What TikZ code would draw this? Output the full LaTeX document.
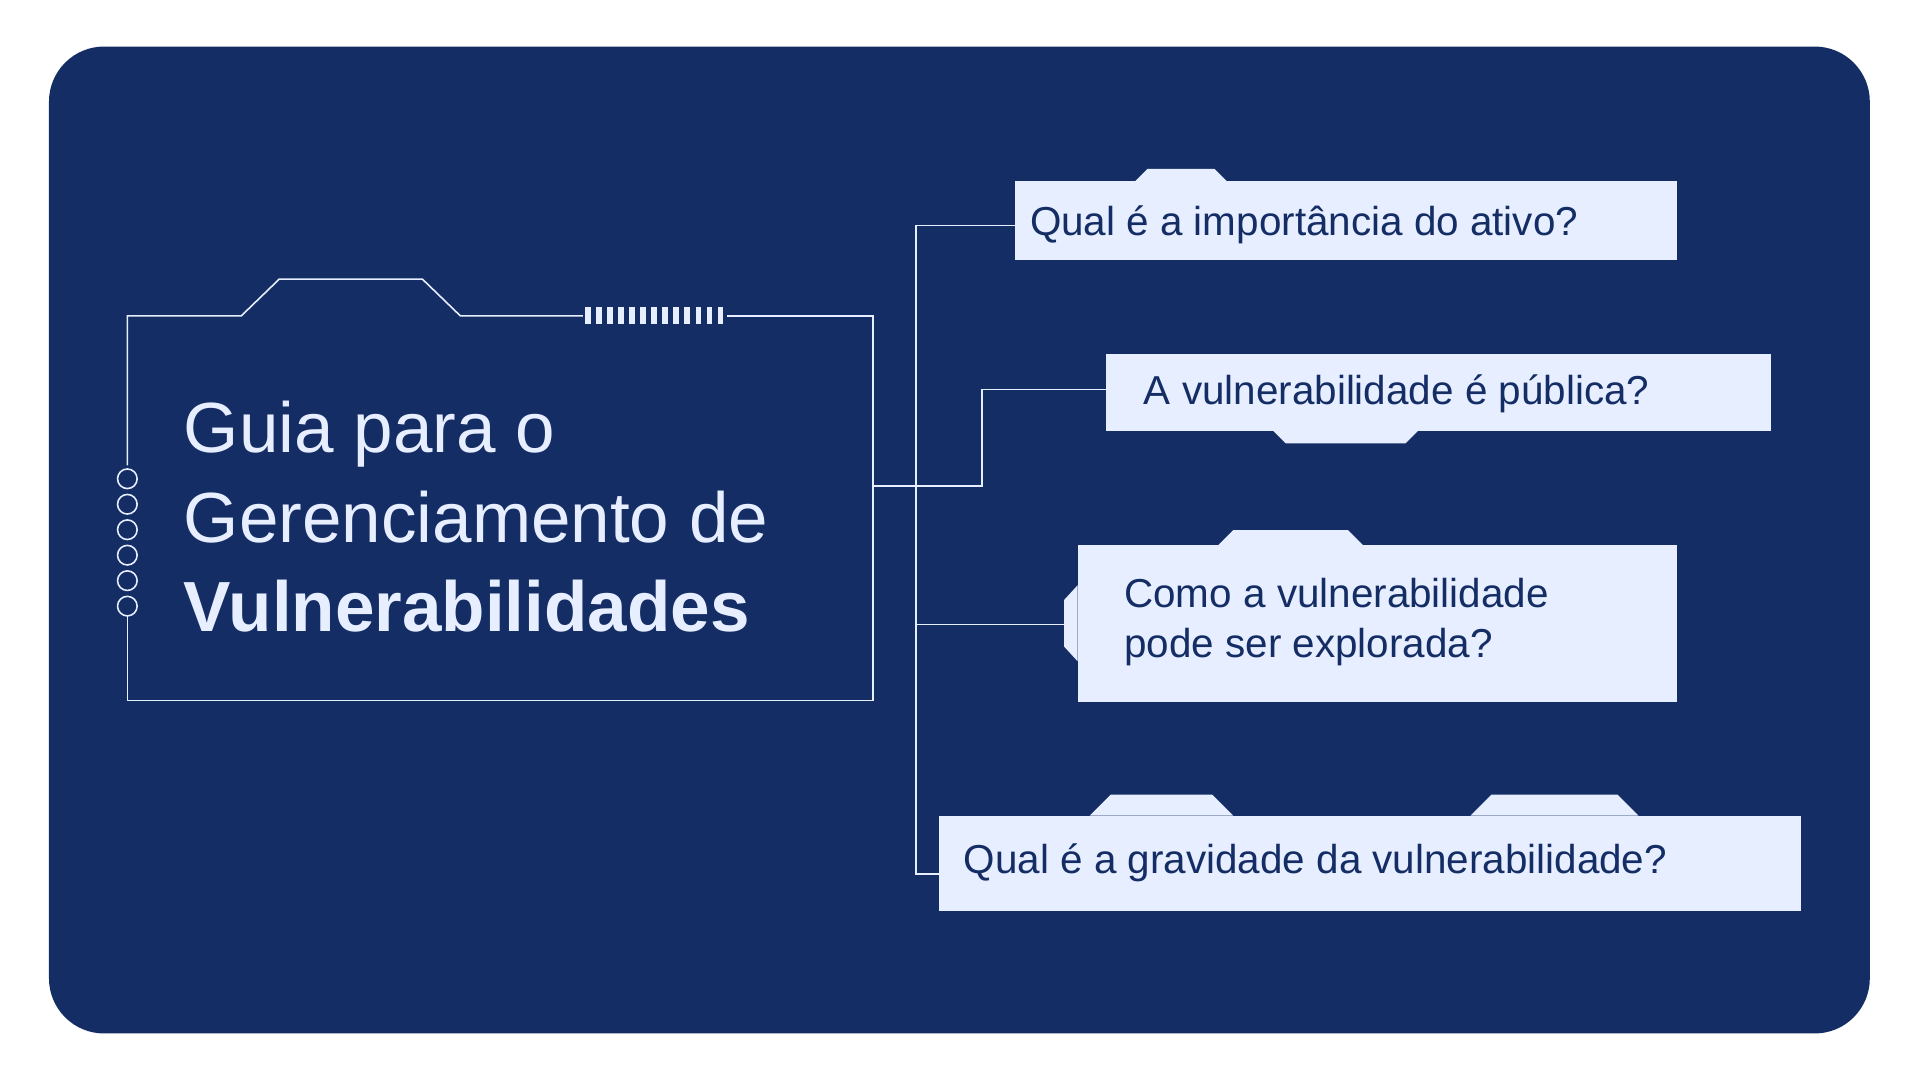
\documentclass[tikz,border=0pt]{standalone}
\usepackage{fontspec}
\setmainfont{Liberation Sans}
\newlength{\du}
\setlength{\du}{1pt}
\definecolor{panelcolor}{HTML}{142D64}
\definecolor{cardcolor}{HTML}{E6EEFF}
\definecolor{inkcolor}{HTML}{142D64}
\tikzset{
  wire/.style={draw=cardcolor,line width=1.3\du},
  card/.style={fill=cardcolor,draw=none,inner sep=0pt,anchor=north west},
  cardtext/.style={text=inkcolor,font=\fontsize{33}{41}\selectfont,anchor=west,align=left,inner sep=0pt},
}
\begin{document}
\begin{tikzpicture}[x=1\du,y=-1\du]
\useasboundingbox (0,0) rectangle (1568,882);
\fill[white] (0,0) rectangle (1568,882);
\fill[panelcolor,rounded corners=45\du] (40,38) rectangle (1527,844);
% title frame
\draw[wire] (104,380)--(104,258)--(197,258)--(228,228)--(345,228)--(376,258)--(476,258);
\foreach \i in {0,...,12}
  \fill[cardcolor] (478+\i*9,251) rectangle ++(4.5,14);
\draw[wire] (594,258)--(713,258)--(713,572)--(104,572)--(104,503);
\foreach \i in {0,...,5}
  \draw[wire] (104,391+\i*20.8) circle (8\du);
\node[anchor=west,text=cardcolor,font=\fontsize{58}{73}\selectfont,align=left,inner sep=0pt] (title) at (150,422)
  {Guia para o\\Gerenciamento de\\\textbf{Vulnerabilidades}};
\coordinate (hub) at (713,397);
% cards
\node[card,minimum width=540\du,minimum height=64\du] (c1) at (829,148) {};
\fill[cardcolor] (927,148)--(937,138)--(992,138)--(1002,148)--cycle;
\node[card,minimum width=543\du,minimum height=63\du] (c2) at (903,289) {};
\fill[cardcolor] (1040,352)--(1050,362)--(1148,362)--(1158,352)--cycle;
\node[card,minimum width=489\du,minimum height=128\du] (c3) at (880,445) {};
\fill[cardcolor] (995,445)--(1007,433)--(1101,433)--(1113,445)--cycle;
\fill[cardcolor] (880,478)--(869,490)--(869,528)--(880,540)--cycle;
\node[card,minimum width=704\du,minimum height=78\du] (c4) at (767,666) {};
\fill[cardcolor] (890,666)--(907,649)--(990,649)--(1007,666)--cycle;
\fill[cardcolor] (1201,666)--(1218,649)--(1321,649)--(1338,666)--cycle;
\node[cardtext] (t1) at (841,184) {Qual é a importância do ativo?};
\node[cardtext] (t2) at (934,322) {A vulnerabilidade é pública?};
\node[cardtext] (t3) at (918,508) {Como a vulnerabilidade\\pode ser explorada?};
\node[cardtext] (t4) at (787,705) {Qual é a gravidade da vulnerabilidade?};
% connectors
\draw[wire] (hub)--(748,397);
\draw[wire] (c1.west|-0,184)--(748,184)--(748,714)--(c4.west|-0,714);
\draw[wire] (748,397)--(802,397)--(802,318)--(c2.west|-0,318);
\draw[wire] (748,510)--(869,510);
\end{tikzpicture}
\end{document}
